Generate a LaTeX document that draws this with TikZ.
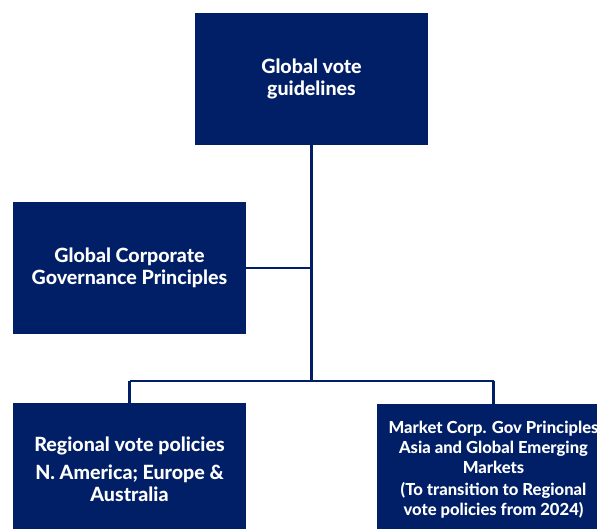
\documentclass[tikz,border=0pt]{standalone}
\usepackage{fontspec}
\setmainfont{Lato}[BoldFont={Lato Heavy}]
\usepackage{tikz}
\usetikzlibrary{calc}
\definecolor{navy}{RGB}{0,31,102}
\tikzset{%
  myedge/.style={draw=navy, line width=2.4pt},
  mybox/.style={rectangle, fill=navy, text=white, font=\bfseries\fontsize{19.6}{22}\selectfont,
    minimum width=233pt, minimum height=132pt, align=center, inner sep=0pt}
}

\begin{document}
\begin{tikzpicture}[x=1pt, y=-1pt]
\useasboundingbox (0,0) rectangle (597,529);

% boxes
\node [mybox] (G) at (311.5,79) {Global vote\\guidelines};
\node [mybox] (P) at (129.5,268) {Global Corporate\\Governance Principles};
\node [mybox] (R) at (129.5,469) {Regional vote policies\\[6pt]N. America; Europe \&\\Australia};
\node [mybox, font=\bfseries\fontsize{16.6}{20}\selectfont] (M) at (493.5,470)
  {Market Corp. Gov Principles\\Asia and Global Emerging\\Markets\\[2pt](To transition to Regional\\vote policies from 2024)};

% joints
\coordinate (J) at (311.5,381);
\coordinate (JR) at (129.5,381);
\coordinate (JM) at (493.5,381);

\draw [myedge] (G) -- (J);
\draw [myedge] (P.east) -- (P.east -| J);
\draw [myedge] (JR) -- (JM);
\draw [myedge] (JR) -- (R);
\draw [myedge] (JM) -- (M);

\end{tikzpicture}
\end{document}
